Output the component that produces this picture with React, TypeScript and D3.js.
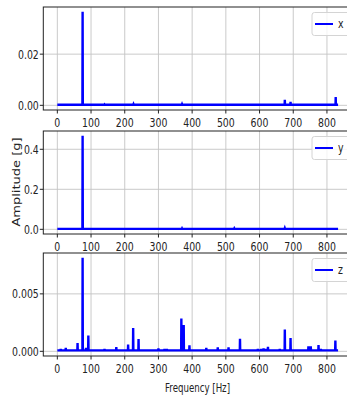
import * as d3 from 'd3';

// frequency axis
const FREQ_MAX = 833;
const xTicks = [0, 100, 200, 300, 400, 500, 600, 700, 800];

// spectrum peaks per axis (frequency in Hz, amplitude in g)
const xFreqs = [75, 140, 226, 370, 530, 675, 692, 826];
const xAmps = [0.0366, 0.0003, 0.0004, 0.0004, 0.0002, 0.0022, 0.0014, 0.0032];
const xFloor = 0.0002;

const yFreqs = [72, 75, 80, 225, 370, 525, 610, 675, 760];
const yAmps = [0.006, 0.468, 0.006, 0.007, 0.004, 0.004, 0.006, 0.005, 0.006];
const yFloor = 0.002;

const zFreqs = [
  10, 25, 60, 75, 85, 92, 140, 175, 210, 225, 241, 300, 318, 325, 368, 375, 392,
  442, 476, 508, 542, 595, 605, 612, 618, 625, 660, 675, 692, 745, 752, 775, 782, 825,
];
const zAmps = [
  0.0002, 0.0003, 0.00073, 0.00815, 0.0003, 0.00137, 0.0002, 0.00038, 0.0006, 0.00203,
  0.00108, 0.00026, 0.0002, 0.0002, 0.00285, 0.0023, 0.00052, 0.0003, 0.00035, 0.00035,
  0.0011, 0.0002, 0.0002, 0.00025, 0.0002, 0.0004, 0.0002, 0.0019, 0.00116, 0.00044,
  0.00044, 0.00055, 0.0002, 0.00093,
];
const zFloor = 0.00008;

const panels = [
  { label: 'x', freqs: xFreqs, amps: xAmps, floor: xFloor, ticks: [0, 0.02], fmt: '.2f', top: 7, bottom: 110 },
  { label: 'y', freqs: yFreqs, amps: yAmps, floor: yFloor, ticks: [0, 0.2, 0.4], fmt: '.1f', top: 131, bottom: 234 },
  { label: 'z', freqs: zFreqs, amps: zAmps, floor: zFloor, ticks: [0, 0.005], fmt: '.3f', top: 253, bottom: 356 },
];

const W = 347;
const H = 396;
const FONT = 'DejaVu Sans, sans-serif';
const SQUEEZE = 0.78;
const TICK_SIZE = 12;

function Panel({ p }: { p: (typeof panels)[number] }) {
  // matplotlib-style 5% margins
  const xPad = FREQ_MAX * 0.05;
  const x = d3.scaleLinear().domain([-xPad, FREQ_MAX + xPad]).range([43.3, 352.1]);
  const maxAmp = d3.max(p.amps) || 0;
  const yPad = maxAmp * 0.05;
  const y = d3.scaleLinear().domain([-yPad, maxAmp + yPad]).range([p.bottom, p.top]);

  // build spike line from peaks
  const pts: [number, number][] = [[0, p.floor]];
  p.freqs.forEach((f, i) => {
    pts.push([f - 0.6, p.floor], [f, p.amps[i]], [f + 0.6, p.floor]);
  });
  pts.push([FREQ_MAX, p.floor]);
  const line = d3
    .line<[number, number]>()
    .x((d) => x(d[0]))
    .y((d) => y(d[1]));

  const fmt = d3.format(p.fmt);
  const left = x.range()[0];
  const right = x.range()[1];

  return (
    <g>
      {/* grid */}
      {xTicks.map((t) => (
        <line key={'gx' + t} x1={x(t)} x2={x(t)} y1={p.top} y2={p.bottom} stroke='#c4c4c4' strokeWidth={0.9} />
      ))}
      {p.ticks.map((t) => (
        <line key={'gy' + t} x1={left} x2={right} y1={y(t)} y2={y(t)} stroke='#c4c4c4' strokeWidth={0.9} />
      ))}
      <path d={line(pts) || ''} fill='none' stroke='#0000ff' strokeWidth={2.4} strokeLinejoin='miter' />
      {/* spines */}
      <rect x={left} y={p.top} width={right - left} height={p.bottom - p.top} fill='none' stroke='#222' strokeWidth={1} />
      {/* x ticks */}
      {xTicks.map((t) => (
        <g key={'tx' + t}>
          <line x1={x(t)} x2={x(t)} y1={p.bottom} y2={p.bottom + 3.5} stroke='#222' strokeWidth={1} />
          <text
            transform={`translate(${x(t)},${p.bottom + 17}) scale(${SQUEEZE},1)`}
            textAnchor='middle'
            fontSize={TICK_SIZE}
            fontFamily={FONT}
            fill='#222'
          >
            {t}
          </text>
        </g>
      ))}
      {/* y ticks */}
      {p.ticks.map((t) => (
        <g key={'ty' + t}>
          <line x1={left - 3.5} x2={left} y1={y(t)} y2={y(t)} stroke='#222' strokeWidth={1} />
          <text
            transform={`translate(${left - 4.5},${y(t) + 4.4}) scale(${SQUEEZE},1)`}
            textAnchor='end'
            fontSize={TICK_SIZE}
            fontFamily={FONT}
            fill='#222'
          >
            {fmt(t)}
          </text>
        </g>
      ))}
      {/* legend */}
      <rect x={312} y={p.top + 5.5} width={50} height={23} rx={2.5} fill='white' fillOpacity={0.8} stroke='#d4d4d4' strokeWidth={1} />
      <line x1={315} x2={333} y1={p.top + 17} y2={p.top + 17} stroke='#0000ff' strokeWidth={2} />
      <text
        transform={`translate(338,${p.top + 21}) scale(${SQUEEZE},1)`}
        fontSize={TICK_SIZE}
        fontFamily={FONT}
        fill='#222'
      >
        {p.label}
      </text>
    </g>
  );
}

export default function App() {
  return (
    <svg
      width={W}
      height={H}
      style={{ position: 'absolute', left: 0, top: 0, background: 'white' }}
    >
      {panels.map((p) => (
        <Panel key={p.label} p={p} />
      ))}
      <text
        transform={`translate(197.5,392) scale(0.72,1)`}
        textAnchor='middle'
        fontSize={12}
        fontFamily={FONT}
        fill='#222'
      >
        Frequency [Hz]
      </text>
      <text
        transform={`translate(19.5,182) scale(0.75,1) rotate(-90)`}
        textAnchor='middle'
        fontSize={13}
        fontFamily={FONT}
        fill='#222'
      >
        Amplitude [g]
      </text>
    </svg>
  );
}
